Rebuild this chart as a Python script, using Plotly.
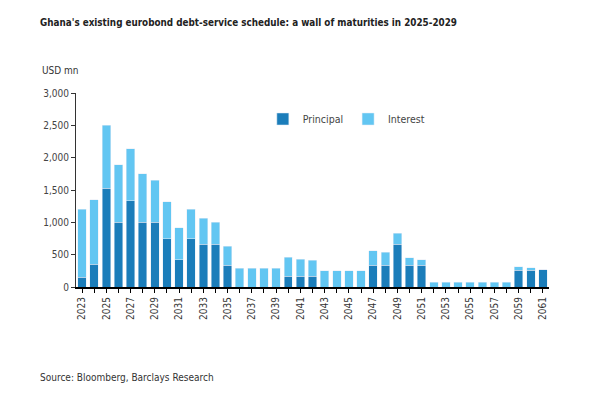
import plotly.graph_objects as go

years = list(range(2023, 2062))
principal = [150, 350, 1530, 1000, 1330, 1000, 1000, 750, 420, 750, 660, 660, 340,
             0, 0, 0, 0, 170, 170, 170, 0, 0, 0, 0, 340, 340, 660, 340, 340,
             0, 0, 0, 0, 0, 0, 0, 260, 260, 265]
interest = [1050, 1000, 970, 890, 810, 750, 650, 570, 500, 450, 400, 340, 290,
            290, 290, 290, 290, 290, 260, 240, 250, 250, 250, 250, 220, 200, 170, 110, 80,
            70, 70, 70, 70, 70, 70, 70, 50, 40, 5]
tick_text = [str(y) if (y - 2023) % 2 == 0 else "" for y in years]

font = "DejaVu Sans Condensed, Arial Narrow, sans-serif"

fig = go.Figure()
fig.add_trace(go.Bar(x=years, y=principal, name="Principal", marker_color="#1b7dba"))
fig.add_trace(go.Bar(x=years, y=interest, name="Interest", marker_color="#62c6f2"))

fig.update_layout(
    width=600, height=400,
    barmode="stack", bargap=0.3,
    plot_bgcolor="white", paper_bgcolor="white",
    margin=dict(l=68, r=59, t=85, b=121),
    font=dict(family=font, size=10, color="#222222"),
    legend=dict(orientation="h", x=0.395, y=0.866, xanchor="left", yanchor="middle",
                traceorder="normal", font=dict(size=10.5, color="#444444"),
                itemwidth=30, tracegroupgap=0),
    showlegend=True,
)
fig.update_xaxes(
    range=[2022.5, 2061.5], tickvals=years, ticktext=tick_text, tickangle=-90,
    ticks="outside", ticklen=4, tickcolor="black", showline=True, linecolor="black",
    linewidth=2, showgrid=False, tickfont=dict(size=10, color="#333333"),
)
fig.update_yaxes(
    range=[0, 3000], dtick=500, tickformat=",", ticks="outside", ticklen=4,
    tickcolor="#333333", showline=True, linecolor="#333333", linewidth=1,
    showgrid=False, zeroline=False, tickfont=dict(size=10, color="#444444"),
)
fig.add_annotation(text="<b>Ghana's existing eurobond debt-service schedule: a wall of maturities in 2025-2029</b>",
                   xref="paper", yref="paper", x=-0.08, y=1.361, xanchor="left", yanchor="middle",
                   showarrow=False, font=dict(size=9.8, color="#222222"))
fig.add_annotation(text="USD mn", xref="paper", yref="paper", x=-0.076, y=1.118,
                   xanchor="left", yanchor="middle", showarrow=False,
                   font=dict(size=10, color="#333333"))
fig.add_annotation(text="Source: Bloomberg, Barclays Research", xref="paper", yref="paper",
                   x=-0.08, y=-0.469, xanchor="left", yanchor="middle", showarrow=False,
                   font=dict(size=10, color="#333333"))

fig.write_html("out.html")
